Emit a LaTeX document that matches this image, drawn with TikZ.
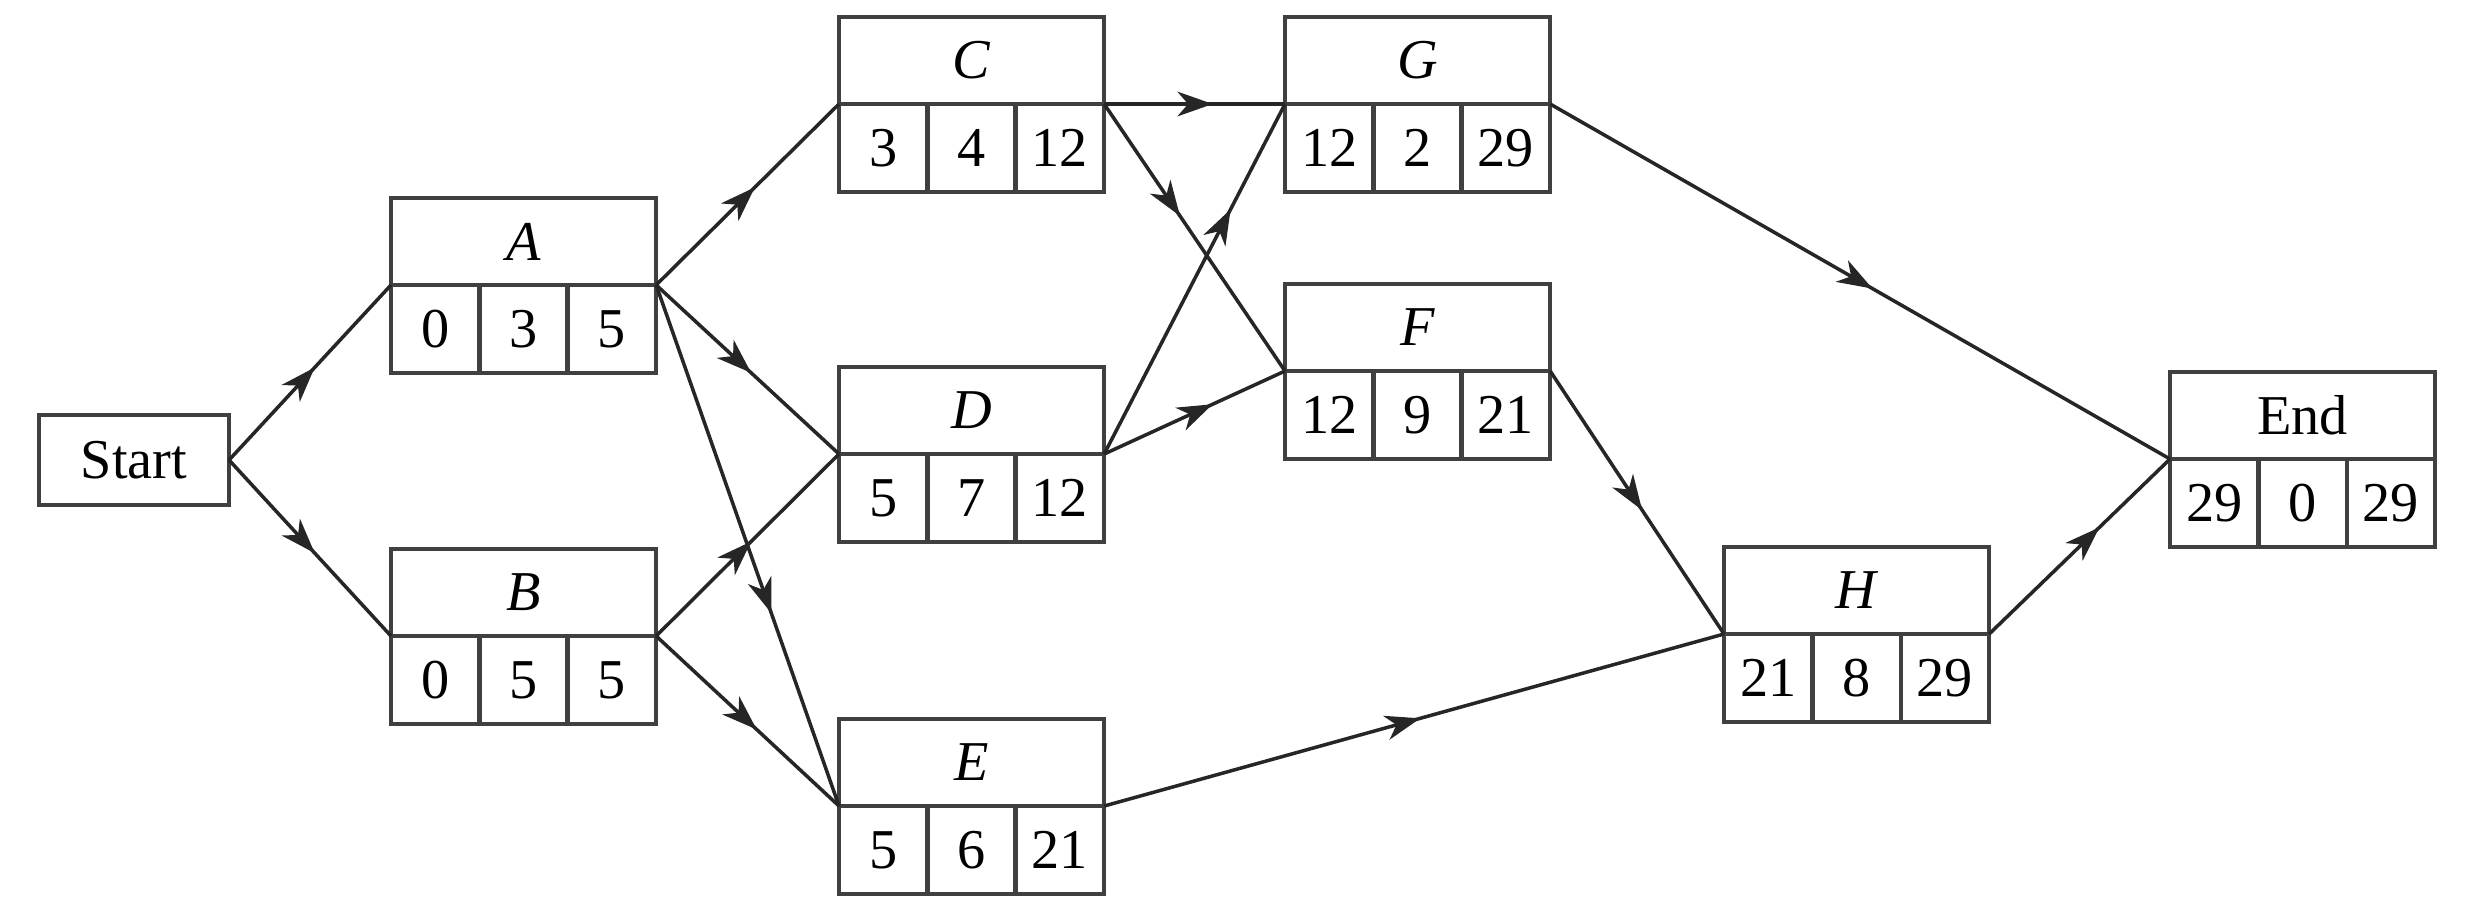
\documentclass[tikz,border=0pt]{standalone}
\usepackage{fontspec}
\setmainfont{Liberation Serif}
\usetikzlibrary{arrows.meta,decorations.markings}
\newcommand\actbox[7]{%
  \node[hdr, anchor=south west] (#1h) at (#2,#3) {#4};
  \node[cell, anchor=north west] (#1a) at (#2,#3) {#5};
  \node[cell, anchor=north west] (#1b) at (#1a.north east) {#6};
  \node[cell, anchor=north west] (#1c) at (#1b.north east) {#7};
}
\begin{document}
\begin{tikzpicture}[x=0.01cm,y=-0.01cm,
  every node/.style={font=\fontsize{16}{19}\selectfont},
  hdr/.style={draw=black!75, line width=1.3pt, minimum width=2.65cm, minimum height=0.87cm, inner sep=0pt, outer sep=0pt},
  cell/.style={draw=black!75, line width=1.3pt, minimum width=0.8833cm, minimum height=0.88cm, inner sep=0pt, outer sep=0pt},
  conn/.style={draw=black!85, line width=1pt, postaction={decorate},
    decoration={markings, mark=at position #1 with {\arrow{Stealth[length=10pt,width=7pt,inset=3pt]}}}},
  conn/.default=0.53]
\useasboundingbox (0,0) rectangle (2473,914);
\node[draw=black!75, line width=1.3pt, minimum width=1.9cm, minimum height=0.9cm, inner sep=0pt, outer sep=0pt] (S) at (134,460) {Start};
\actbox{A}{391}{285}{\textit{A}}{0}{3}{5}
\actbox{B}{391}{636}{\textit{B}}{0}{5}{5}
\actbox{C}{839}{104}{\textit{C}}{3}{4}{12}
\actbox{D}{839}{454}{\textit{D}}{5}{7}{12}
\actbox{E}{839}{806}{\textit{E}}{5}{6}{21}
\actbox{G}{1285}{104}{\textit{G}}{12}{2}{29}
\actbox{F}{1285}{371}{\textit{F}}{12}{9}{21}
\actbox{H}{1724}{634}{\textit{H}}{21}{8}{29}
\actbox{End}{2170}{459}{End}{29}{0}{29}
\draw[conn] (S.east) -- (Ah.south west);
\draw[conn] (S.east) -- (Bh.south west);
\draw[conn=0.54] (Ah.south east) -- (Ch.south west);
\draw[conn=0.52] (Ah.south east) -- (Dh.south west);
\draw[conn=0.63] (Ah.south east) -- (Eh.south west);
\draw[conn=0.52] (Bh.south east) -- (Dh.south west);
\draw[conn=0.55] (Bh.south east) -- (Eh.south west);
\draw[conn=0.6] (Ch.south east) -- (Gh.south west);
\draw[conn=0.42] (Ch.south east) -- (Fh.south west);
\draw[conn=0.70] (Dh.south east) -- (Gh.south west);
\draw[conn=0.6] (Dh.south east) -- (Fh.south west);
\draw[conn=0.51] (Eh.south east) -- (Hh.south west);
\draw[conn=0.53] (Fh.south east) -- (Hh.south west);
\draw[conn=0.52] (Gh.south east) -- (Endh.south west);
\draw[conn=0.61] (Hh.south east) -- (Endh.south west);
\end{tikzpicture}
\end{document}
